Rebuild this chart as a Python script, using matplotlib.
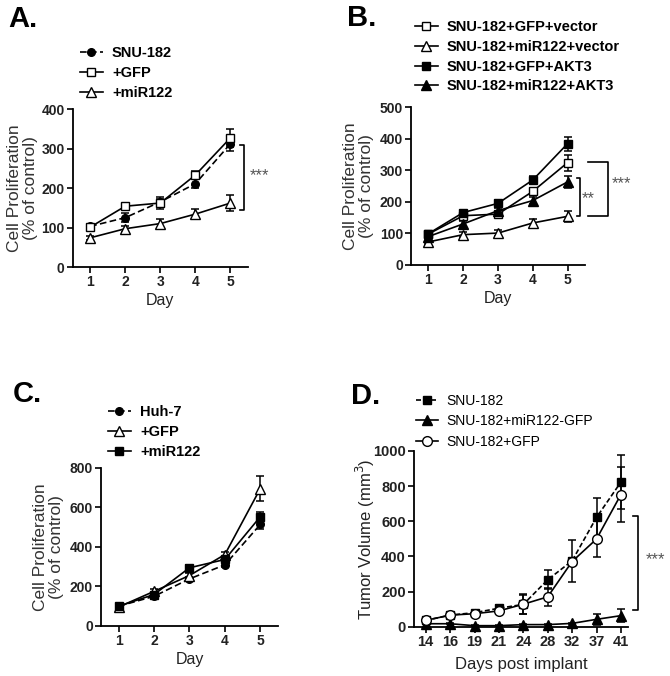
import matplotlib
matplotlib.use("Agg")
import matplotlib.pyplot as plt
from matplotlib.lines import Line2D
import numpy as np

plt.rcParams['font.family'] = ['Liberation Sans', 'DejaVu Sans']

# ---- data ----
days = [1, 2, 3, 4, 5]

# A. SNU-182
a_labels = ['SNU-182', '+GFP', '+miR122']
a_snu = [103, 125, 165, 211, 312]
a_snu_err = [6, 12, 8, 12, 18]
a_gfp = [101, 154, 162, 233, 327]
a_gfp_err = [6, 6, 16, 10, 22]
a_mir = [74, 97, 110, 134, 162]
a_mir_err = [5, 8, 12, 13, 20]

# B. rescue with AKT3
b_labels = ['SNU-182+GFP+vector', 'SNU-182+miR122+vector',
            'SNU-182+GFP+AKT3', 'SNU-182+miR122+AKT3']
b_gfp_vec = [98, 156, 161, 233, 324]
b_gfp_vec_err = [5, 8, 8, 12, 25]
b_mir_vec = [73, 96, 101, 133, 154]
b_mir_vec_err = [5, 7, 10, 12, 18]
b_gfp_akt = [99, 166, 195, 269, 384]
b_gfp_akt_err = [5, 8, 10, 12, 22]
b_mir_akt = [90, 130, 172, 204, 263]
b_mir_akt_err = [5, 10, 8, 10, 20]

# C. Huh-7
c_labels = ['Huh-7', '+GFP', '+miR122']
c_huh = [100, 150, 238, 309, 513]
c_huh_err = [8, 10, 12, 12, 22]
c_gfp = [96, 175, 255, 361, 694]
c_gfp_err = [8, 12, 15, 15, 65]
c_mir = [100, 159, 294, 336, 552]
c_mir_err = [8, 10, 12, 15, 25]

# D. xenograft
d_days = ['14', '16', '19', '21', '24', '28', '32', '37', '41']
d_labels = ['SNU-182', 'SNU-182+miR122-GFP', 'SNU-182+GFP']
d_snu = [36, 66, 80, 105, 127, 267, 375, 622, 823]
d_snu_err = [8, 10, 12, 20, 57, 53, 120, 110, 155]
d_mir = [17, 17, 6, 6, 12, 12, 19, 42, 63]
d_mir_err = [3, 3, 2, 2, 3, 3, 5, 30, 35]
d_gfp = [36, 66, 74, 90, 128, 170, 371, 499, 752]
d_gfp_err = [8, 10, 10, 15, 55, 50, 20, 105, 155]

fig = plt.figure(figsize=(6.7, 6.76), dpi=100)

axA = fig.add_axes([0.1085, 0.605, 0.2616, 0.2337])
axB = fig.add_axes([0.6134, 0.608, 0.2597, 0.2337])
axC = fig.add_axes([0.1507, 0.074, 0.2642, 0.2342])
axD = fig.add_axes([0.6179, 0.0729, 0.3194, 0.26])

lw = 1.2
cap = 3.0


def series(ax, x, y, e, marker, face, ms=5.5, dashes=None):
    ax.errorbar(x, y, yerr=e, color='black', fmt='none', capsize=cap,
                elinewidth=1.1, capthick=1.1, clip_on=False, zorder=2)
    line, = ax.plot(x, y, color='black', marker=marker, markersize=ms,
                    markerfacecolor=face, markeredgecolor='black',
                    markeredgewidth=1.0, linewidth=lw, clip_on=False, zorder=3)
    if dashes is not None:
        line.set_dashes(dashes)
    h = Line2D([], [], color='black', marker=marker, markersize=ms,
               markerfacecolor=face, markeredgecolor='black',
               markeredgewidth=1.0, linewidth=lw)
    if dashes is not None:
        h.set_dashes(dashes)
    return h


def style(ax, ylabel, lx, size=12.5, color='#333333', tsize=10):
    for s in ['top', 'right']:
        ax.spines[s].set_visible(False)
    for s in ['left', 'bottom']:
        ax.spines[s].set_linewidth(1.3)
    ax.tick_params(direction='out', length=4.3, width=1.2, labelsize=tsize, pad=1.5)
    for t in ax.get_xticklabels() + ax.get_yticklabels():
        t.set_fontweight('bold')
        t.set_color('#222222')
    ax.set_ylabel(ylabel, fontsize=size, color=color, linespacing=1.05,
                  va='center', ha='center')
    ax.yaxis.set_label_coords(lx, 0.5)


def bracket(ax, x0, x1, y0, y1, text, tx, ty):
    ax.plot([x0, x1, x1, x0], [y0, y0, y1, y1], color='black', lw=1.2, clip_on=False)
    ax.text(tx, ty, text, ha='left', va='center', fontsize=12, color='#555555')


def legend(handles, labels, x, y, bold=True, size=10.5, spacing=0.4):
    fig.legend(handles, labels, loc='upper left', bbox_to_anchor=(x / 670, 1 - y / 676),
               frameon=False, borderpad=0, borderaxespad=0, handlelength=1.55,
               handletextpad=0.65, labelspacing=spacing, numpoints=1,
               prop={'weight': 'bold' if bold else 'normal', 'size': size})


ylab = 'Cell Proliferation\n(% of control)'

# ---- A ----
hA = [series(axA, days, a_snu, a_snu_err, 'o', 'black', ms=5.5, dashes=(4, 2)),
      series(axA, days, a_gfp, a_gfp_err, 's', 'white', ms=6),
      series(axA, days, a_mir, a_mir_err, '^', 'white', ms=6.5)]
axA.set_xlim(0.5, 5.5)
axA.set_ylim(0, 400)
axA.set_xticks(days)
axA.set_yticks([0, 100, 200, 300, 400])
axA.set_xlabel('Day', fontsize=11.5, color='#222222', labelpad=3)
style(axA, ylab, -0.285)
bracket(axA, 5.28, 5.39, 310, 144, '***', 5.55, 232)
legend(hA, a_labels, 80, 46)

# ---- B ----
hB = [series(axB, days, b_gfp_vec, b_gfp_vec_err, 's', 'white', ms=6),
      series(axB, days, b_mir_vec, b_mir_vec_err, '^', 'white', ms=6.5),
      series(axB, days, b_gfp_akt, b_gfp_akt_err, 's', 'black', ms=6),
      series(axB, days, b_mir_akt, b_mir_akt_err, '^', 'black', ms=6.5)]
axB.set_xlim(0.5, 5.5)
axB.set_ylim(0, 500)
axB.set_xticks(days)
axB.set_yticks([0, 100, 200, 300, 400, 500])
axB.set_xlabel('Day', fontsize=11.5, color='#222222', labelpad=3)
style(axB, ylab, -0.3)
bracket(axB, 5.28, 5.35, 275, 154, '**', 5.4, 210)
bracket(axB, 5.59, 6.16, 326, 154, '***', 6.28, 258)
legend(hB, b_labels, 415, 20)

# ---- C ----
hC = [series(axC, days, c_huh, c_huh_err, 'o', 'black', ms=5.5, dashes=(4, 2)),
      series(axC, days, c_gfp, c_gfp_err, '^', 'white', ms=6.5),
      series(axC, days, c_mir, c_mir_err, 's', 'black', ms=6)]
axC.set_xlim(0.5, 5.5)
axC.set_ylim(0, 800)
axC.set_xticks(days)
axC.set_yticks([0, 200, 400, 600, 800])
axC.set_xlabel('Day', fontsize=11.5, color='#222222', labelpad=3)
style(axC, ylab, -0.295)
legend(hC, c_labels, 108, 405)

# ---- D ----
xd = np.arange(len(d_days))
hD = [series(axD, xd, d_snu, d_snu_err, 's', 'black', ms=6, dashes=(3, 1.5)),
      series(axD, xd, d_mir, d_mir_err, '^', 'black', ms=6.5),
      series(axD, xd, d_gfp, d_gfp_err, 'o', 'white', ms=7)]
axD.set_xlim(-0.48, 8.29)
axD.set_ylim(0, 1000)
axD.set_xticks(xd)
axD.set_xticklabels(d_days)
axD.set_yticks([0, 200, 400, 600, 800, 1000])
axD.set_xlabel('Days post implant', fontsize=12, color='#222222', labelpad=6)
style(axD, 'Tumor Volume (mm$^3$)', -0.225, size=12, color='#222222', tsize=10.5)
bracket(axD, 8.5, 8.69, 628, 95, '***', 9.0, 380)
legend(hD, d_labels, 416, 394, bold=False, size=10, spacing=0.45)

# ---- panel letters ----
for lab, x, y in [('A.', 8, 5), ('B.', 347, 4), ('C.', 13, 380), ('D.', 351, 382)]:
    fig.text(x / 670, 1 - y / 676, lab, fontsize=21, fontweight='bold', ha='left', va='top')

fig.savefig('out.png', dpi=100)
